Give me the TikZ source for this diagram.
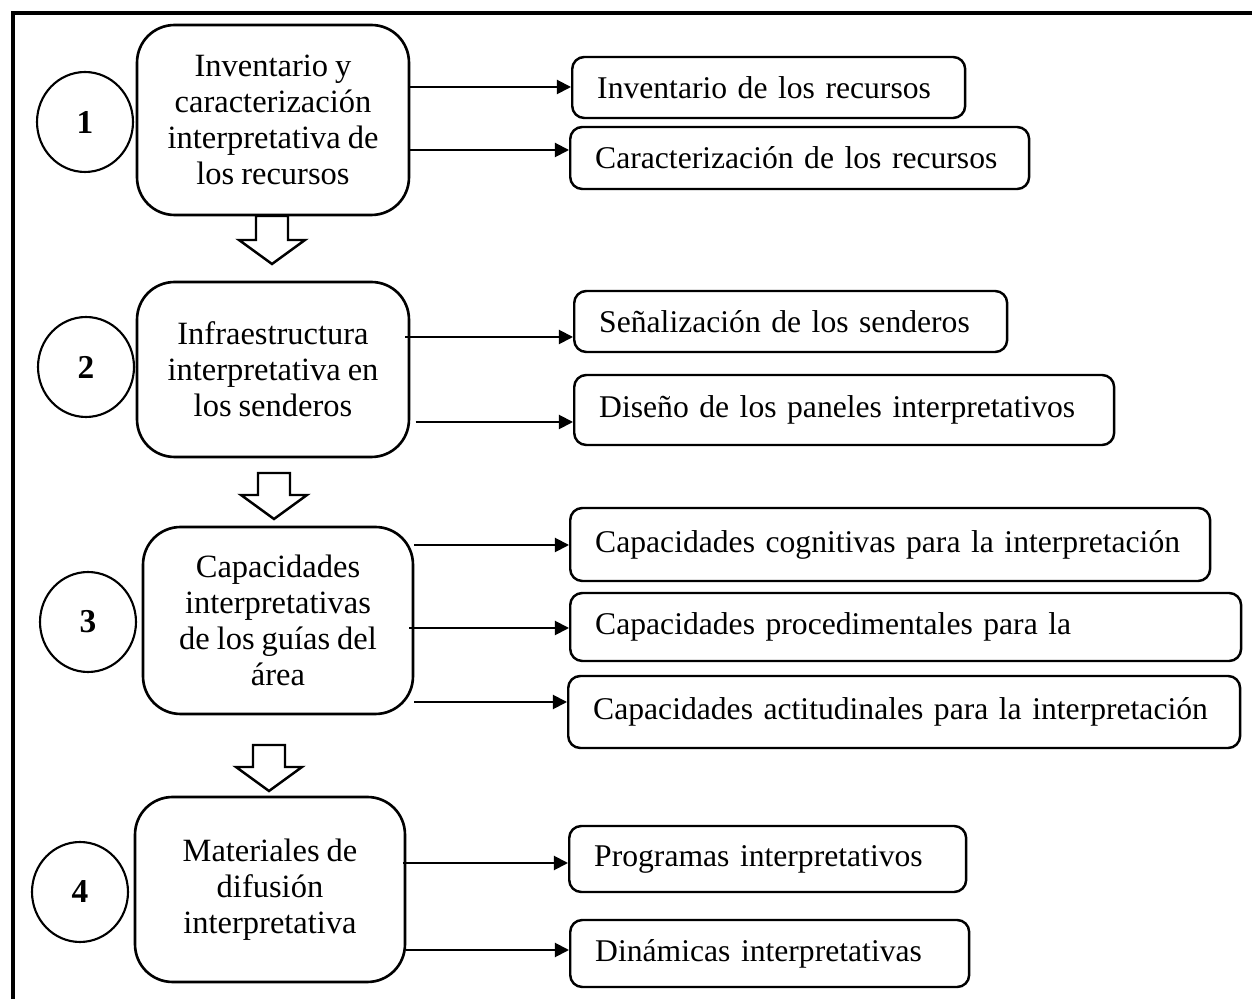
\documentclass[tikz,border=0pt]{standalone}
\usepackage{fontspec}
\setmainfont{Liberation Serif}[WordSpace=0.85]
\usetikzlibrary{arrows.meta,shapes.geometric}

\begin{document}
\begin{tikzpicture}[x=0.02cm, y=-0.02cm, font=\fontsize{18.5}{20.4}\selectfont,
	stage/.style={draw, line width=1.5pt, rounded corners=0.75cm, align=center, inner sep=0pt},
	sub/.style={draw, line width=1.4pt, rounded corners=0.24cm, anchor=west, align=left, inner xsep=0.5cm, inner ysep=0pt, font=\fontsize{18}{20}\selectfont},
	num/.style={draw, ellipse, line width=1.2pt, minimum width=1.92cm, minimum height=2cm, font=\fontsize{19}{20}\selectfont\bfseries},
	link/.style={line width=1.1pt, -{Triangle[length=8pt,width=8pt]}},
	hollow/.style={line width=1.4pt, fill=white, line join=miter}]
	\useasboundingbox (0,0) rectangle (1252,999);
	\draw[line width=2.8pt] (13,1010) -- (13,13) -- (1262,13);
	% stages
	\node[stage, minimum width=5.44cm, minimum height=3.8cm] (m1) at (273,120) {Inventario y\\caracterización\\interpretativa de\\los recursos};
	\node[stage, minimum width=5.44cm, minimum height=3.5cm] (m2) at (273,369.5) {Infraestructura\\interpretativa en\\los senderos};
	\node[stage, minimum width=5.4cm, minimum height=3.74cm] (m3) at (278,620.5) {Capacidades\\interpretativas\\de los guías del\\área};
	\node[stage, minimum width=5.4cm, minimum height=3.7cm] (m4) at (270,889.5) {Materiales de\\difusión\\interpretativa};
	\node[num] (n1) at (85,122) {1};
	\node[num] (n2) at (86,367) {2};
	\node[num] (n3) at (88,622) {3};
	\node[num] (n4) at (80,892) {4};
	% results
	\node[sub, text width=6.86cm, minimum height=1.22cm] (r1a) at (571,87.5) {\mbox{Inventario de los recursos}};
	\node[sub, text width=8.18cm, minimum height=1.24cm] (r1b) at (569,158) {\mbox{Caracterización de los recursos}};
	\node[sub, text width=7.66cm, minimum height=1.22cm] (r2a) at (573,321.5) {\mbox{Señalización de los senderos}};
	\node[sub, text width=9.8cm, minimum height=1.4cm] (r2b) at (573,410) {\mbox{Diseño de los paneles interpretativos}};
	\node[sub, text width=11.8cm, minimum height=1.46cm] (r3a) at (569,544.5) {\mbox{Capacidades cognitivas para la interpretación}};
	\node[sub, text width=12.42cm, minimum height=1.36cm] (r3b) at (569,627) {\mbox{Capacidades procedimentales para la}};
	\node[sub, text width=12.44cm, minimum height=1.44cm] (r3c) at (567,712) {\mbox{Capacidades actitudinales para la interpretación}};
	\node[sub, text width=6.94cm, minimum height=1.32cm] (r4a) at (568,859) {\mbox{Programas interpretativos}};
	\node[sub, text width=6.98cm, minimum height=1.34cm] (r4b) at (569,953.5) {\mbox{Dinámicas interpretativas}};
	% links
	\draw[link] (m1.east |- 0,87) -- (r1a.west |- 0,87);
	\draw[link] (m1.east |- 0,150) -- (r1b.west |- 0,150);
	\draw[link] ([xshift=-3pt]m2.east |- 0,337) -- (r2a.west |- 0,337);
	\draw[link] ([xshift=3pt]m2.east |- 0,422) -- (r2b.west |- 0,422);
	\draw[link] (m3.east |- 0,545) -- (r3a.west |- 0,545);
	\draw[link] ([xshift=-3pt]m3.east |- 0,628) -- (r3b.west |- 0,628);
	\draw[link] (m3.east |- 0,702) -- (r3c.west |- 0,702);
	\draw[link] ([xshift=-2pt]m4.east |- 0,863) -- (r4a.west |- 0,863);
	\draw[link] (m4.east |- 0,950) -- (r4b.west |- 0,950);
	% hollow arrows between stages
	\foreach \cx/\top/\shaft in {272/216/24, 274/473/22, 269/745/22}
		\draw[hollow] (\cx-16,\top) -- ++(0,\shaft) -- ++(-17,0) -- ++(33,24) -- ++(33,-24) -- ++(-17,0) -- ++(0,-\shaft) -- cycle;
\end{tikzpicture}
\end{document}
